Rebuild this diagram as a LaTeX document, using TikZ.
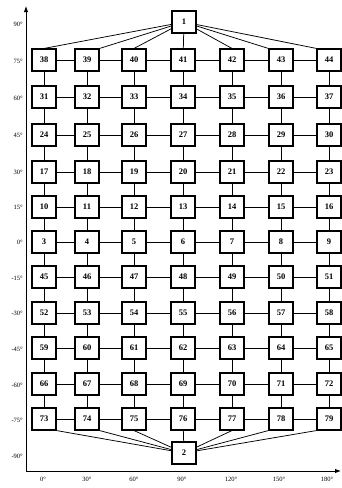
\documentclass[tikz,border=0pt]{standalone}
\usepackage{fontspec}
\setmainfont{Liberation Serif}
\usetikzlibrary{arrows.meta}
\begin{document}
\begin{tikzpicture}[x=1pt,y=-1pt,
  box/.style={draw,line width=1.1pt,fill=white,minimum width=24pt,minimum height=22pt,inner sep=0pt,font=\bfseries\fontsize{8.5}{9}\selectfont},
  link/.style={line width=0.75pt},
  axis/.style={line width=0.9pt,-{Latex[length=6pt,width=4.5pt]}},
  lab/.style={font=\fontsize{6.5}{7}\selectfont,inner sep=0pt}]
\useasboundingbox (0,0) rectangle (342,488);
% axes
\coordinate (o) at (26,471);
\coordinate (ytip) at (26,6);
\coordinate (xtip) at (341,471);
\draw[axis] (o) -- (ytip);
\draw[axis] (o) -- (xtip);
% left labels
\foreach \y/\t [count=\i] in {24/90,61/75,98/60,135/45,172/30,207/15,242/0,278/-15,313/-30,349/-45,385/-60,420/-75,456/-90}
  \node[lab,anchor=east] (yl\i) at (23,\y) {\t°};
% bottom labels
\foreach \x/\t [count=\i] in {43/0,87/30,134/60,182/90,231/120,279/150,327/180}
  \node[lab] (xl\i) at (\x,479) {\t°};
% grid nodes
\foreach \y/\s in {60/38,97/31,135/24,172/17,207/10,242/3,277/45,313/52,348/59,384/66,419/73} {
  \foreach \x [count=\c from 0] in {44,87,134,183,232,281,329} {
    \pgfmathtruncatemacro\n{\s+\c}
    \node[box] (n\n) at (\x,\y) {\n};
  }
}
\node[box] (n1) at (184,22) {1};
\node[box] (n2) at (184,453) {2};
% horizontal links
\foreach \s in {38,31,24,17,10,3,45,52,59,66,73} {
  \foreach \c in {0,...,5} {
    \pgfmathtruncatemacro\a{\s+\c}
    \pgfmathtruncatemacro\b{\s+\c+1}
    \draw[link] (n\a) -- (n\b);
  }
}
% vertical links
\foreach \s/\t in {38/31,31/24,24/17,17/10,10/3,3/45,45/52,52/59,59/66,66/73} {
  \foreach \c in {0,...,6} {
    \pgfmathtruncatemacro\a{\s+\c}
    \pgfmathtruncatemacro\b{\t+\c}
    \draw[link] (n\a) -- (n\b);
  }
}
% links from node 1
\draw[link] (n1) -- (n38.north);
\draw[link] (n1) -- (n39.north east);
\draw[link] (n1) -- (n40.north);
\draw[link] (n1) -- (n41);
\draw[link] (n1) -- (n42.north);
\draw[link] (n1) -- (n43.north west);
\draw[link] (n1) -- (n44.north west);
% links to node 2
\draw[link] (n73.south east) -- (n2);
\draw[link] (n74.south east) -- (n2);
\draw[link] (n75.south) -- (n2);
\draw[link] (n76) -- (n2);
\draw[link] (n77.south) -- (n2);
\draw[link] (n78.south west) -- (n2);
\draw[link] (n79.south west) -- (n2);
\end{tikzpicture}
\end{document}
